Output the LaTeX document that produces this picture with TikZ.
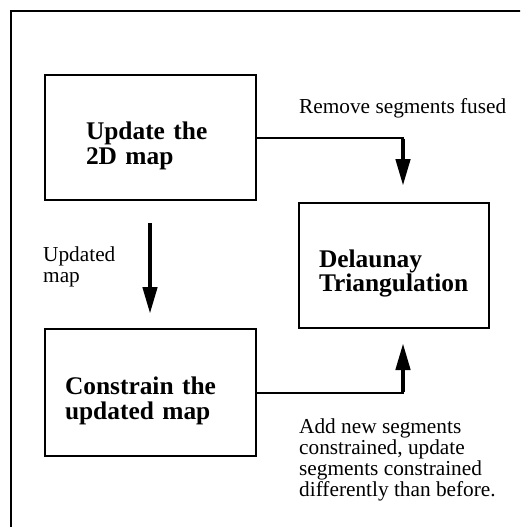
\documentclass[tikz,border=0pt]{standalone}
\usepackage{fontspec}
\setmainfont{Liberation Serif}
\usetikzlibrary{arrows.meta}
\tikzset{
	stage/.style={draw, line width=2pt, inner sep=0pt, align=left, font=\fontsize{25.4}{24.5}\selectfont\bfseries, execute at begin node={\rule{0pt}{34pt}}},
	note/.style={inner sep=0pt, align=left, anchor=base west, font=\fontsize{21.3}{21}\selectfont},
	feed/.style={line width=2pt},
	push/.style={line width=4.5pt, -{Triangle[length=27pt,width=14pt]}}
}

\begin{document}
\begin{tikzpicture}[x=1pt,y=-1pt]
\useasboundingbox (0,0) rectangle (520,527);
\clip (0,0) rectangle (520,527);
\draw[line width=2pt] (11,11) rectangle (540,550);

\node[stage, minimum width=211pt, minimum height=125pt, text width=129pt] (upd) at (150.5,137.5) {Update the\\2D map};
\node[stage, minimum width=211pt, minimum height=127pt, text width=171pt] (con) at (150.5,392.5) {Constrain the\\updated map};
\node[stage, minimum width=190pt, minimum height=125pt, text width=150pt] (del) at (394,265.5) {Delaunay\\Triangulation};

\node[note] (rem) at (299,113) {Remove segments fused};
\node[note] (upm) at (43,282) {Updated\\map};
\node[note] (add) at (299,496) {Add new segments\\constrained, update\\segments constrained\\differently than before.};

\coordinate (k1) at ([xshift=9pt]upd.east -| del.north);
\coordinate (k2) at ([xshift=9pt]con.east -| del.south);
\draw[feed] (upd.east |- k1) -- ([xshift=1pt]k1);
\draw[push, shorten >=16pt] ([yshift=-1pt]k1) -- (k1 |- del.north);
\draw[push, shorten <=22pt, shorten >=14pt] ([xshift=-0.5pt]upd.south) -- ([xshift=-0.5pt]con.north);
\draw[feed] (con.east |- k2) -- ([xshift=1pt]k2);
\draw[push, shorten >=14pt] ([yshift=1pt]k2) -- (k2 |- del.south);

\end{tikzpicture}
\end{document}
